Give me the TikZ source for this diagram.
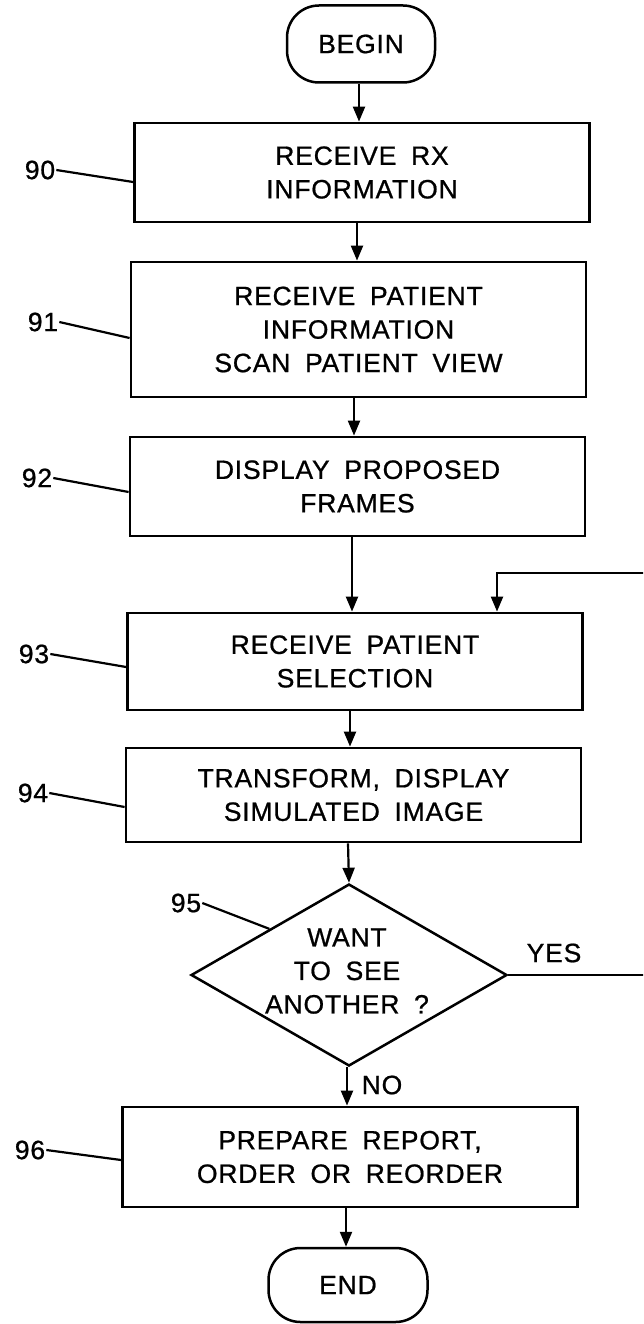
\documentclass[tikz,border=0pt]{standalone}
\usepackage{fontspec}
\setmainfont{Liberation Sans}[LetterSpace=3,WordSpace=1.8,FakeBold=0.8]
\usetikzlibrary{arrows.meta,shapes.geometric,calc}
\begin{document}
\begin{tikzpicture}[x=1pt,y=-1pt,
  every node/.style={font=\fontsize{26.5}{33.5}\selectfont},
  stepbox/.style={draw,line width=2.8pt,minimum width=455pt,align=center,inner sep=0pt},
  term/.style={draw,line width=2.5pt,rounded corners=32pt,inner sep=0pt},
  decision/.style={draw,diamond,line width=2.5pt,inner sep=0pt},
  flow/.style={line width=2.2pt,-{Triangle[length=15pt,width=12pt]}},
  leader/.style={line width=2.2pt},
  lbl/.style={inner sep=1pt}]
\fill[white] (0,0) rectangle (643,1324);
\clip (0,0) rectangle (643,1324);

% terminals and steps
\node[term,minimum width=148pt,minimum height=77pt] (begin) at (361,44) {BEGIN};
\node[stepbox,minimum height=99pt] (b90) at (362,172.5) {RECEIVE RX\\INFORMATION};
\node[stepbox,minimum height=135pt] (b91) at (358.5,329.5) {RECEIVE PATIENT\\INFORMATION\\SCAN PATIENT VIEW};
\node[stepbox,minimum height=99pt] (b92) at (357.5,486.5) {DISPLAY PROPOSED\\FRAMES};
\node[stepbox,minimum height=97pt] (b93) at (355,661.5) {RECEIVE PATIENT\\SELECTION};
\node[stepbox,minimum height=94pt] (b94) at (353.5,795) {TRANSFORM, DISPLAY\\SIMULATED IMAGE};
\node[decision,minimum width=316pt,minimum height=182pt] (d95) at (349,975) {};
\node[align=center,inner sep=0pt] (t95) at (347,971) {WANT\\TO SEE\\ANOTHER ?};
\node[stepbox,minimum height=100pt] (b96) at (350,1157) {PREPARE REPORT,\\ORDER OR REORDER};
\node[term,minimum width=159pt,minimum height=74pt] (end) at (348,1285) {END};

% reference numerals
\node[lbl] (l90) at (40,170) {90};
\node[lbl] (l91) at (43,322) {91};
\node[lbl] (l92) at (37,478) {92};
\node[lbl] (l93) at (34,654) {93};
\node[lbl] (l94) at (33,793) {94};
\node[lbl] (l95) at (186,903) {95};
\node[lbl] (l96) at (30,1150) {96};
\node[lbl] (yes) at (554,953) {YES};
\node[lbl] (no) at (382,1085) {NO};

\draw[leader] (l90.east) -- ([yshift=-9.5pt]b90.west);
\draw[leader] (l91.east) -- ([yshift=-8.5pt]b91.west);
\draw[leader] (l92.east) -- ([yshift=-5.5pt]b92.west);
\draw[leader] (l93.east) -- ([yshift=-5.5pt]b93.west);
\draw[leader] (l94.east) -- ([yshift=-12pt]b94.west);
\draw[leader] (l95.east) -- ($(d95.west)!0.5!(d95.north)$);
\draw[leader] (l96.east) -- ([yshift=-3pt]b96.west);

% flow connectors
\draw[flow] ([xshift=-2pt]begin.south) -- ([xshift=-3pt]b90.north);
\draw[flow] ([xshift=-5pt]b90.south) -- ([xshift=-1.5pt]b91.north);
\draw[flow] ([xshift=-4.5pt]b91.south) -- ([xshift=-3.5pt]b92.north);
\draw[flow] ([xshift=-5.5pt]b92.south) -- ([xshift=-3pt]b93.north);
\draw[flow] ([xshift=-5pt]b93.south) -- ([xshift=-3.5pt]b94.north);
\draw[flow] ([xshift=-5.5pt]b94.south) -- (d95.north);
\draw[flow] ([xshift=-2pt]d95.south) -- ([xshift=-3pt]b96.north);
\draw[flow] ([xshift=-4pt]b96.south) -- ([xshift=-2pt]end.north);

% feedback loop (YES)
\coordinate (fb1) at (660,573);
\coordinate (fb2) at (497,573);
\draw[flow] (d95.east) -| (fb1) -- (fb2) -- (fb2 |- b93.north);
\end{tikzpicture}
\end{document}
